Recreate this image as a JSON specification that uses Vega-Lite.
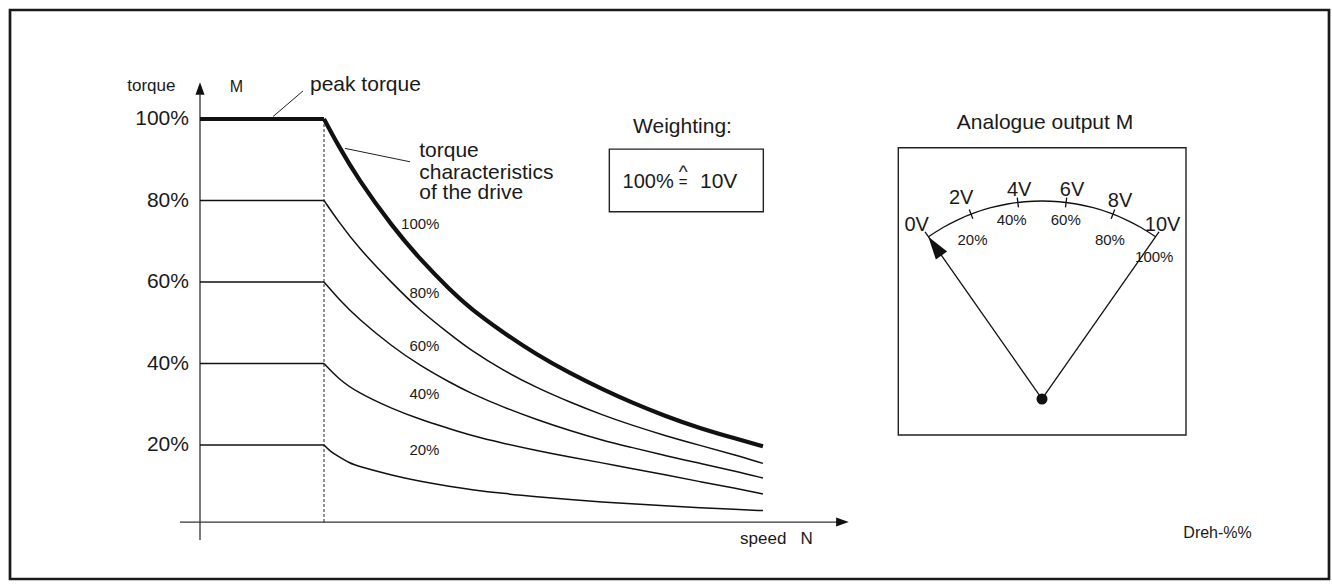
{
  "$schema": "https://vega.github.io/schema/vega-lite/v6.json",
  "width": 1332,
  "height": 584,
  "autosize": {"type": "fit", "contains": "padding"},
  "padding": {"left": 10, "top": 10, "right": 3, "bottom": 5},
  "background": "white",
  "config": {
    "view": {"stroke": "#1a1a1a", "strokeWidth": 2.7},
    "font": "Liberation Sans"
  },
  "resolve": {"scale": {"x": "independent", "y": "independent"}},
  "layer": [
    {
      "encoding": {
        "x": {"field": "N", "type": "quantitative", "scale": {"domain": [-1.5323, 9.1048], "nice": false, "zero": false}, "axis": null},
        "y": {"field": "T", "type": "quantitative", "scale": {"domain": [-12.88, 126.75], "nice": false, "zero": false}, "axis": null}
      },
      "layer": [
        {
          "data": {"values": [
            {"N": 0, "T": -3.3, "N2": 0, "T2": 106},
            {"N": -0.161, "T": 1.1, "N2": 5.14, "T2": 1.1}
          ]},
          "mark": {"type": "rule", "color": "#333333", "strokeWidth": 1.3},
          "encoding": {"x2": {"field": "N2"}, "y2": {"field": "T2"}}
        },
        {
          "data": {"values": [
            {"dir": "up", "N": 0, "T": 107.5},
            {"dir": "right", "N": 5.181, "T": 1.1}
          ]},
          "mark": {"type": "point", "filled": true, "size": 159, "color": "#111111", "opacity": 1},
          "encoding": {
            "shape": {"field": "dir", "type": "nominal", "scale": {"domain": ["up", "right"], "range": ["M0,-1L-0.72,1L0.72,1Z", "M1,0L-1,-0.72L-1,0.72Z"]}, "legend": null}
          }
        },
        {
          "data": {"values": [{"N": 1, "T": 1.1, "T2": 100}]},
          "mark": {"type": "rule", "color": "#222222", "strokeWidth": 1, "strokeDash": [3, 2]},
          "encoding": {"y2": {"field": "T2"}}
        },
        {
          "data": {"values": [
            {"curve": 100, "N": 0, "N2": 1, "T": 100},
            {"curve": 80, "N": 0, "N2": 1, "T": 80},
            {"curve": 60, "N": 0, "N2": 1, "T": 60},
            {"curve": 40, "N": 0, "N2": 1, "T": 40},
            {"curve": 20, "N": 0, "N2": 1, "T": 20}
          ]},
          "mark": {"type": "rule", "color": "#111111"},
          "encoding": {
            "x2": {"field": "N2"},
            "strokeWidth": {"condition": {"test": "datum.curve === 100", "value": 4.2}, "value": 1.5}
          }
        },
        {
          "data": {"values": [
            {"curve": 100, "N": 1.0, "T": 100}, {"curve": 100, "N": 1.113, "T": 93.6}, {"curve": 100, "N": 1.274, "T": 85.3},
            {"curve": 100, "N": 1.556, "T": 73.4}, {"curve": 100, "N": 1.774, "T": 65.6}, {"curve": 100, "N": 2.024, "T": 57.8},
            {"curve": 100, "N": 2.177, "T": 53.6}, {"curve": 100, "N": 2.444, "T": 47.6}, {"curve": 100, "N": 2.718, "T": 42.1},
            {"curve": 100, "N": 2.984, "T": 37.6}, {"curve": 100, "N": 3.25, "T": 33.6}, {"curve": 100, "N": 3.468, "T": 30.6},
            {"curve": 100, "N": 3.75, "T": 27.1}, {"curve": 100, "N": 4.032, "T": 24.1}, {"curve": 100, "N": 4.315, "T": 21.6},
            {"curve": 100, "N": 4.54, "T": 19.7},
            {"curve": 80, "N": 1.0, "T": 80}, {"curve": 80, "N": 1.113, "T": 75.0}, {"curve": 80, "N": 1.274, "T": 68.5},
            {"curve": 80, "N": 1.556, "T": 59.5}, {"curve": 80, "N": 1.774, "T": 53.0}, {"curve": 80, "N": 2.024, "T": 47.0},
            {"curve": 80, "N": 2.177, "T": 43.4}, {"curve": 80, "N": 2.444, "T": 38.3}, {"curve": 80, "N": 2.718, "T": 34.0},
            {"curve": 80, "N": 2.984, "T": 30.5}, {"curve": 80, "N": 3.25, "T": 27.3}, {"curve": 80, "N": 3.468, "T": 25.0},
            {"curve": 80, "N": 3.75, "T": 22.3}, {"curve": 80, "N": 4.032, "T": 19.9}, {"curve": 80, "N": 4.315, "T": 17.6},
            {"curve": 80, "N": 4.54, "T": 15.5},
            {"curve": 60, "N": 1.0, "T": 60}, {"curve": 60, "N": 1.113, "T": 56.0}, {"curve": 60, "N": 1.274, "T": 51.0},
            {"curve": 60, "N": 1.556, "T": 44.0}, {"curve": 60, "N": 1.774, "T": 39.5}, {"curve": 60, "N": 2.024, "T": 35.2},
            {"curve": 60, "N": 2.177, "T": 32.8}, {"curve": 60, "N": 2.444, "T": 29.3}, {"curve": 60, "N": 2.718, "T": 26.2},
            {"curve": 60, "N": 2.984, "T": 23.5}, {"curve": 60, "N": 3.25, "T": 21.1}, {"curve": 60, "N": 3.468, "T": 19.5},
            {"curve": 60, "N": 3.75, "T": 17.4}, {"curve": 60, "N": 4.032, "T": 15.5}, {"curve": 60, "N": 4.315, "T": 13.6},
            {"curve": 60, "N": 4.54, "T": 11.9},
            {"curve": 40, "N": 1.0, "T": 40}, {"curve": 40, "N": 1.113, "T": 36.3}, {"curve": 40, "N": 1.274, "T": 32.8},
            {"curve": 40, "N": 1.556, "T": 28.8}, {"curve": 40, "N": 1.774, "T": 26.3}, {"curve": 40, "N": 2.024, "T": 23.9},
            {"curve": 40, "N": 2.177, "T": 22.4}, {"curve": 40, "N": 2.444, "T": 20.4}, {"curve": 40, "N": 2.718, "T": 18.6},
            {"curve": 40, "N": 2.984, "T": 17.0}, {"curve": 40, "N": 3.25, "T": 15.6}, {"curve": 40, "N": 3.468, "T": 14.3},
            {"curve": 40, "N": 3.75, "T": 12.7}, {"curve": 40, "N": 4.032, "T": 11.0}, {"curve": 40, "N": 4.315, "T": 9.4},
            {"curve": 40, "N": 4.54, "T": 8.0},
            {"curve": 20, "N": 1.0, "T": 20}, {"curve": 20, "N": 1.048, "T": 18.5}, {"curve": 20, "N": 1.105, "T": 17.4},
            {"curve": 20, "N": 1.21, "T": 15.5}, {"curve": 20, "N": 1.274, "T": 14.8}, {"curve": 20, "N": 1.556, "T": 12.5},
            {"curve": 20, "N": 1.774, "T": 11.1}, {"curve": 20, "N": 2.024, "T": 9.8}, {"curve": 20, "N": 2.177, "T": 9.1},
            {"curve": 20, "N": 2.444, "T": 8.1}, {"curve": 20, "N": 2.718, "T": 7.3}, {"curve": 20, "N": 2.984, "T": 6.6},
            {"curve": 20, "N": 3.25, "T": 6.0}, {"curve": 20, "N": 3.468, "T": 5.6}, {"curve": 20, "N": 3.75, "T": 5.1},
            {"curve": 20, "N": 4.032, "T": 4.6}, {"curve": 20, "N": 4.315, "T": 4.2}, {"curve": 20, "N": 4.54, "T": 3.9}
          ]},
          "mark": {"type": "line", "color": "#111111", "interpolate": "basis"},
          "encoding": {
            "detail": {"field": "curve", "type": "nominal"},
            "strokeWidth": {"condition": {"test": "datum.curve === 100", "value": 4.2}, "value": 1.5}
          }
        },
        {
          "data": {"values": [
            {"N": 0.589, "T": 100.6, "N2": 0.831, "T2": 106.9},
            {"N": 1.169, "T": 92.8, "N2": 1.694, "T2": 89.5}
          ]},
          "mark": {"type": "rule", "color": "#222222", "strokeWidth": 1},
          "encoding": {"x2": {"field": "N2"}, "y2": {"field": "T2"}}
        },
        {
          "data": {"values": [{"N": 3.301, "N2": 4.543, "T": 92.6, "T2": 77.25}]},
          "mark": {"type": "rect", "filled": false, "stroke": "#222222", "strokeWidth": 1.4},
          "encoding": {"x2": {"field": "N2"}, "y2": {"field": "T2"}}
        },
        {
          "data": {"values": [
            {"label": "100%", "N": -0.089, "T": 100},
            {"label": "80%", "N": -0.089, "T": 80},
            {"label": "60%", "N": -0.089, "T": 60},
            {"label": "40%", "N": -0.089, "T": 40},
            {"label": "20%", "N": -0.089, "T": 20}
          ]},
          "mark": {"type": "text", "align": "right", "baseline": "middle", "fontSize": 21, "color": "#1a1a1a"},
          "encoding": {"text": {"field": "label"}}
        },
        {
          "data": {"values": [
            {"label": "100%", "N": 1.931, "T": 74.23},
            {"label": "80%", "N": 1.931, "T": 57.3},
            {"label": "60%", "N": 1.931, "T": 44.34},
            {"label": "40%", "N": 1.931, "T": 32.47},
            {"label": "20%", "N": 1.931, "T": 18.77}
          ]},
          "mark": {"type": "text", "align": "right", "baseline": "middle", "fontSize": 15, "color": "#1a1a1a"},
          "encoding": {"text": {"field": "label"}}
        },
        {
          "data": {"values": [
            {"label": "peak torque", "N": 0.887, "T": 108.34},
            {"label": "torque", "N": 1.768, "T": 92.07},
            {"label": "characteristics", "N": 1.768, "T": 86.75},
            {"label": "of the drive", "N": 1.768, "T": 81.77},
            {"label": "10V", "N": 4.032, "T": 84.47}
          ]},
          "mark": {"type": "text", "align": "left", "baseline": "middle", "fontSize": 21, "color": "#1a1a1a"},
          "encoding": {"text": {"field": "label"}}
        },
        {
          "data": {"values": [
            {"label": "Weighting:", "N": 3.891, "T": 97.96}
          ]},
          "mark": {"type": "text", "align": "center", "baseline": "middle", "fontSize": 21, "color": "#1a1a1a"},
          "encoding": {"text": {"field": "label"}}
        },
        {
          "data": {"values": [{"label": "^", "N": 3.897, "T": 87.0}]},
          "mark": {"type": "text", "align": "center", "baseline": "middle", "fontSize": 19, "color": "#1a1a1a"},
          "encoding": {"text": {"field": "label"}}
        },
        {
          "data": {"values": [{"label": "100%", "N": 3.82, "T": 84.47}]},
          "mark": {"type": "text", "align": "right", "baseline": "middle", "fontSize": 20, "color": "#1a1a1a"},
          "encoding": {"text": {"field": "label"}}
        },
        {
          "data": {"values": [{"label": "=", "N": 3.897, "T": 84.6}]},
          "mark": {"type": "text", "align": "center", "baseline": "middle", "fontSize": 15, "color": "#1a1a1a"},
          "encoding": {"text": {"field": "label"}}
        },
        {
          "data": {"values": [{"label": "torque", "N": -0.198, "T": 108.16}]},
          "mark": {"type": "text", "align": "right", "baseline": "middle", "fontSize": 17, "color": "#1a1a1a"},
          "encoding": {"text": {"field": "label"}}
        },
        {
          "data": {"values": [{"label": "M", "N": 0.294, "T": 107.9}]},
          "mark": {"type": "text", "align": "center", "baseline": "middle", "fontSize": 16, "color": "#1a1a1a"},
          "encoding": {"text": {"field": "label"}}
        },
        {
          "data": {"values": [{"label": "speed\u00a0\u00a0\u00a0N", "N": 4.355, "T": -3.07}]},
          "mark": {"type": "text", "align": "left", "baseline": "middle", "fontSize": 17, "color": "#1a1a1a"},
          "encoding": {"text": {"field": "label"}}
        },
        {
          "data": {"values": [{"label": "Dreh-%%", "N": 7.93, "T": -1.67}]},
          "mark": {"type": "text", "align": "left", "baseline": "middle", "fontSize": 16, "color": "#1a1a1a"},
          "encoding": {"text": {"field": "label"}}
        }
      ]
    },
    {
      "encoding": {
        "x": {"field": "u", "type": "quantitative", "scale": {"domain": [-5.2121, 1.4495], "nice": false, "zero": false}, "axis": null},
        "y": {"field": "v", "type": "quantitative", "scale": {"domain": [-0.9091, 1.9646], "nice": false, "zero": false}, "axis": null}
      },
      "layer": [
        {
          "data": {"values": [{"u": -0.7258, "u2": 0.7273, "v": 1.2692, "v2": -0.1818}]},
          "mark": {"type": "rect", "filled": false, "stroke": "#222222", "strokeWidth": 1.4},
          "encoding": {"x2": {"field": "u2"}, "y2": {"field": "v2"}}
        },
        {
          "data": {"values": [
            {"u": -0.5736, "v": 0.8192}, {"u": -0.5, "v": 0.866}, {"u": -0.4226, "v": 0.9063},
            {"u": -0.342, "v": 0.9397}, {"u": -0.2588, "v": 0.9659}, {"u": -0.1736, "v": 0.9848},
            {"u": -0.0872, "v": 0.9962}, {"u": 0, "v": 1}, {"u": 0.0872, "v": 0.9962},
            {"u": 0.1736, "v": 0.9848}, {"u": 0.2588, "v": 0.9659}, {"u": 0.342, "v": 0.9397},
            {"u": 0.4226, "v": 0.9063}, {"u": 0.5, "v": 0.866}, {"u": 0.5736, "v": 0.8192}
          ]},
          "mark": {"type": "line", "color": "#111111", "strokeWidth": 1.3, "interpolate": "monotone"}
        },
        {
          "data": {"values": [
            {"u": 0, "v": 0, "u2": -0.5908, "v2": 0.8438},
            {"u": 0, "v": 0, "u2": 0.5908, "v2": 0.8438},
            {"u": -0.3494, "v": 0.9103, "u2": -0.3673, "v2": 0.9569},
            {"u": -0.1188, "v": 0.9677, "u2": -0.1249, "v2": 1.0174},
            {"u": 0.1188, "v": 0.9677, "u2": 0.1249, "v2": 1.0174},
            {"u": 0.3494, "v": 0.9103, "u2": 0.3673, "v2": 0.9569}
          ]},
          "mark": {"type": "rule", "color": "#111111", "strokeWidth": 1.3},
          "encoding": {"x2": {"field": "u2"}, "y2": {"field": "v2"}}
        },
        {
          "data": {"values": [{"u": -0.5409, "v": 0.7722}]},
          "mark": {"type": "point", "filled": true, "shape": "M0,-1L-0.6,1L0.6,1Z", "angle": 325, "size": 529, "color": "#111111", "opacity": 1}
        },
        {
          "data": {"values": [{"u": 0, "v": 0}]},
          "mark": {"type": "circle", "size": 121, "color": "#111111", "opacity": 1}
        },
        {
          "data": {"values": [
            {"label": "0V", "u": -0.633, "v": 0.879},
            {"label": "2V", "u": -0.408, "v": 1.014},
            {"label": "4V", "u": -0.115, "v": 1.056},
            {"label": "6V", "u": 0.152, "v": 1.056},
            {"label": "8V", "u": 0.394, "v": 1.002},
            {"label": "10V", "u": 0.609, "v": 0.879}
          ]},
          "mark": {"type": "text", "align": "center", "baseline": "middle", "fontSize": 20, "color": "#1a1a1a"},
          "encoding": {"text": {"field": "label"}}
        },
        {
          "data": {"values": [
            {"label": "20%", "u": -0.351, "v": 0.803},
            {"label": "40%", "u": -0.153, "v": 0.904},
            {"label": "60%", "u": 0.12, "v": 0.904},
            {"label": "80%", "u": 0.343, "v": 0.803},
            {"label": "100%", "u": 0.567, "v": 0.719}
          ]},
          "mark": {"type": "text", "align": "center", "baseline": "middle", "fontSize": 15, "color": "#1a1a1a"},
          "encoding": {"text": {"field": "label"}}
        },
        {
          "data": {"values": [{"label": "Analogue output M", "u": 0.0152, "v": 1.3944}]},
          "mark": {"type": "text", "align": "center", "baseline": "middle", "fontSize": 21, "color": "#1a1a1a"},
          "encoding": {"text": {"field": "label"}}
        }
      ]
    }
  ]
}
